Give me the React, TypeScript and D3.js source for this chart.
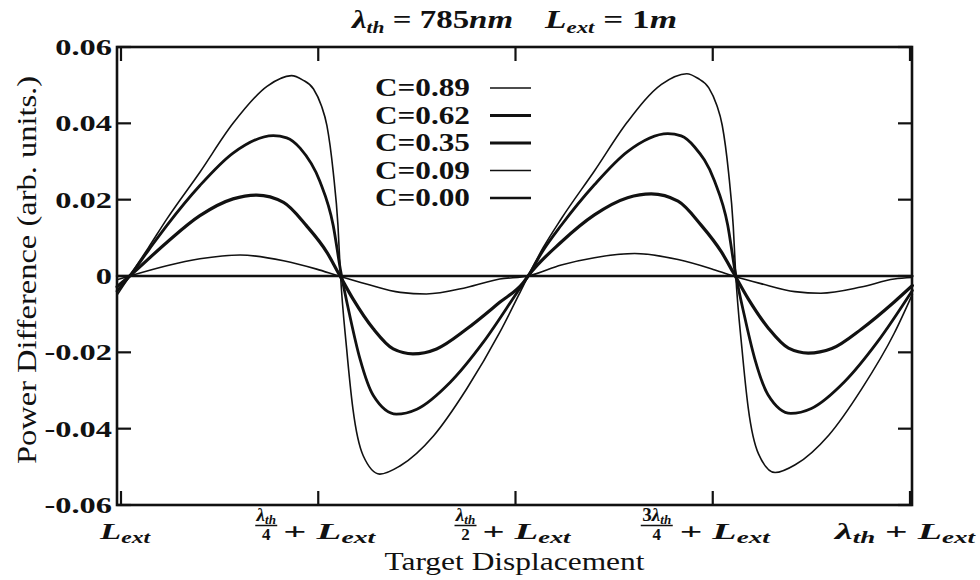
import React from 'react';
import * as d3 from 'd3';

// Target displacement in units of the threshold wavelength (0 = L_ext, 1 = λ_th + L_ext)
const xTicks = [0, 0.25, 0.5, 0.75, 1];
const yTicks = [-0.06, -0.04, -0.02, 0, 0.02, 0.04, 0.06];
const yTickLabels = ['-0.06', '-0.04', '-0.02', '0', '0.02', '0.04', '0.06'];

const seriesNames = ['C=0.89', 'C=0.62', 'C=0.35', 'C=0.09', 'C=0.00'];

// Power difference (arb. units) versus displacement, one array per feedback level C
const c089: [number, number][] = [
  [-0.005, -0.005], [0.011, 0], [0.035, 0.0075], [0.058, 0.0149], [0.1, 0.0272], [0.142, 0.04],
  [0.185, 0.0497], [0.216, 0.0525], [0.23, 0.0514], [0.244, 0.049], [0.254, 0.0446], [0.261, 0.0394],
  [0.269, 0.0272], [0.275, 0.0132], [0.278, 0.001], [0.286, -0.0191], [0.294, -0.0349], [0.307, -0.0471],
  [0.328, -0.0519], [0.354, -0.0497], [0.396, -0.0419], [0.438, -0.0296], [0.48, -0.0148], [0.51, -0.0025],
  [0.516, 0], [0.535, 0.0074], [0.558, 0.015], [0.6, 0.0275], [0.642, 0.0404], [0.685, 0.0502],
  [0.717, 0.053], [0.731, 0.0518], [0.745, 0.0493], [0.755, 0.0448], [0.762, 0.0395], [0.77, 0.0272],
  [0.776, 0.013], [0.779, 0.0008], [0.787, -0.019], [0.795, -0.0346], [0.808, -0.0466], [0.829, -0.0515],
  [0.855, -0.0494], [0.897, -0.0417], [0.939, -0.0295], [0.98, -0.015], [1.003, -0.0048],
];

const c062: [number, number][] = [
  [-0.005, -0.004], [0.011, 0], [0.035, 0.0068], [0.058, 0.0132], [0.1, 0.0237], [0.142, 0.0322],
  [0.193, 0.0368], [0.21, 0.0362], [0.227, 0.0335], [0.252, 0.0248], [0.269, 0.0132], [0.278, 0.0018],
  [0.29, -0.0104], [0.303, -0.0218], [0.32, -0.0314], [0.349, -0.0362], [0.375, -0.0349], [0.417, -0.0279],
  [0.459, -0.0174], [0.502, -0.0043], [0.516, 0], [0.535, 0.0067], [0.558, 0.0133], [0.6, 0.0239],
  [0.642, 0.0326], [0.693, 0.0373], [0.71, 0.0367], [0.727, 0.0338], [0.752, 0.025], [0.769, 0.0133],
  [0.778, 0.0016], [0.79, -0.0103], [0.803, -0.0215], [0.82, -0.0311], [0.849, -0.036], [0.875, -0.0347],
  [0.917, -0.0277], [0.959, -0.0172], [1.003, -0.0038],
];

const c035: [number, number][] = [
  [-0.005, -0.0028], [0.011, 0], [0.058, 0.0088], [0.1, 0.0158], [0.142, 0.0202], [0.172, 0.0212],
  [0.206, 0.0193], [0.235, 0.0132], [0.261, 0.0062], [0.275, 0.001], [0.294, -0.006], [0.32, -0.0139],
  [0.345, -0.0191], [0.37, -0.0204], [0.4, -0.0191], [0.438, -0.0139], [0.48, -0.0069], [0.51, -0.0017],
  [0.516, 0], [0.558, 0.0089], [0.6, 0.016], [0.642, 0.0205], [0.672, 0.0215], [0.706, 0.0196],
  [0.735, 0.0134], [0.761, 0.0063], [0.776, 0.0009], [0.795, -0.006], [0.821, -0.0138], [0.846, -0.0189],
  [0.871, -0.0202], [0.901, -0.019], [0.939, -0.0138], [0.98, -0.0068], [1.003, -0.0025],
];

const c009: [number, number][] = [
  [-0.005, -0.001], [0.011, 0], [0.058, 0.0027], [0.1, 0.0045], [0.151, 0.0055], [0.206, 0.004],
  [0.248, 0.0018], [0.276, 0], [0.311, -0.0021], [0.354, -0.0043], [0.387, -0.0047], [0.438, -0.003],
  [0.48, -0.0008], [0.516, 0], [0.558, 0.0029], [0.6, 0.0048], [0.651, 0.0059], [0.706, 0.0043],
  [0.748, 0.0019], [0.776, 0], [0.811, -0.002], [0.854, -0.0041], [0.887, -0.0045], [0.938, -0.0029],
  [0.98, -0.0008], [1.003, -0.0004],
];

const c000: [number, number][] = [
  [-0.005, 0], [0.25, 0], [0.5, 0], [0.75, 0], [1.003, 0],
];

const seriesData = [c089, c062, c035, c009, c000];
const seriesWidths = [1.6, 2.8, 3.2, 1.6, 2.6];

const W = 980;
const H = 580;
const frame = { left: 117, right: 912, top: 47, bottom: 505 };

const serif = "'Liberation Serif', 'Times New Roman', serif";
const labelBase = 539;

export default function App() {
  const x = d3.scaleLinear().domain([0, 1]).range([121, 910]);
  const y = d3.scaleLinear().domain([-0.06, 0.06]).range([frame.bottom, frame.top]);
  const line = d3
    .line<[number, number]>()
    .x((d) => x(d[0]))
    .y((d) => y(d[1]))
    .curve(d3.curveMonotoneX);

  const tickLen = 14;
  const ink = '#111';

  const lext = (key: string) => [
    <tspan key={key + 'L'} fontStyle="italic">L</tspan>,
    <tspan key={key + 's'} fontStyle="italic" fontSize="0.68em" dy={4}>ext</tspan>,
  ];

  const fraction = (cx: number, num: string, den: string, barHalf: number) => (
    <g fill={ink}>
      <text x={cx} y={521} textAnchor="middle" fontFamily={serif} fontWeight="bold" fontSize={19}>
        {num.length > 1 && <tspan>{num.slice(0, num.length - 1)}</tspan>}
        <tspan fontStyle="italic">{num.slice(-1)}</tspan>
        <tspan fontStyle="italic" fontSize={13} dy={3}>th</tspan>
      </text>
      <line x1={cx - barHalf} x2={cx + barHalf} y1={525.5} y2={525.5} stroke={ink} strokeWidth={1.5} />
      <text x={cx} y={540} textAnchor="middle" fontFamily={serif} fontWeight="bold" fontSize={17}>{den}</text>
    </g>
  );

  const plusLext = (startX: number, len: number) => (
    <text x={startX} y={labelBase} fontFamily={serif} fontWeight="bold" fontSize={24} fill={ink}
      textLength={len} lengthAdjust="spacingAndGlyphs" style={{ whiteSpace: 'pre' }}>
      <tspan>{'+ '}</tspan>
      {lext('p')}
    </text>
  );

  return (
    <svg width={W} height={H} viewBox={`0 0 ${W} ${H}`}
      style={{ position: 'absolute', left: 0, top: 0, background: '#fff' }}>
      <rect x={0} y={0} width={W} height={H} fill="#fff" />

      {/* title */}
      <text x={352} y={28} fontFamily={serif} fontWeight="bold" fontSize={26}
        textLength={161} lengthAdjust="spacingAndGlyphs" fill={ink} style={{ whiteSpace: 'pre' }}>
        <tspan fontStyle="italic">λ</tspan>
        <tspan fontStyle="italic" fontSize={17} dy={5}>th</tspan>
        <tspan dy={-5}>{' = 785'}</tspan>
        <tspan fontStyle="italic">nm</tspan>
      </text>
      <text x={545} y={28} fontFamily={serif} fontWeight="bold" fontSize={26}
        textLength={132} lengthAdjust="spacingAndGlyphs" fill={ink} style={{ whiteSpace: 'pre' }}>
        <tspan fontStyle="italic">L</tspan>
        <tspan fontStyle="italic" fontSize={17} dy={5}>ext</tspan>
        <tspan dy={-5}>{' = 1'}</tspan>
        <tspan fontStyle="italic">m</tspan>
      </text>

      {/* curves */}
      <g fill="none" stroke={ink} strokeLinejoin="round" strokeLinecap="round">
        {seriesData.map((s, i) => (
          <path key={seriesNames[i]} d={line(s) ?? ''} strokeWidth={seriesWidths[i]} />
        ))}
      </g>

      {/* frame and ticks */}
      <rect x={frame.left} y={frame.top} width={frame.right - frame.left} height={frame.bottom - frame.top}
        fill="none" stroke={ink} strokeWidth={2.6} />
      <g stroke={ink} strokeWidth={2.2}>
        {yTicks.map((t) => (
          <g key={'y' + t}>
            <line x1={frame.left} x2={frame.left + tickLen} y1={y(t)} y2={y(t)} />
            <line x1={frame.right} x2={frame.right - tickLen} y1={y(t)} y2={y(t)} />
          </g>
        ))}
        {xTicks.map((t) => (
          <g key={'x' + t}>
            <line x1={x(t)} x2={x(t)} y1={frame.bottom} y2={frame.bottom - tickLen} />
            <line x1={x(t)} x2={x(t)} y1={frame.top} y2={frame.top + tickLen} />
          </g>
        ))}
      </g>

      {/* y tick labels */}
      {yTicks.map((t, i) => (
        <g key={'yl' + t} transform={`translate(112,${y(t) + 8}) scale(1.35,1)`}>
          <text x={0} y={0} textAnchor="end" fontFamily={serif} fontWeight="bold" fontSize={24} fill={ink}>
            {yTickLabels[i]}
          </text>
        </g>
      ))}

      {/* x tick labels */}
      <text x={x(0) + 4} y={labelBase} textAnchor="middle" fontFamily={serif} fontWeight="bold" fontSize={24}
        textLength={50} lengthAdjust="spacingAndGlyphs" fill={ink}>
        {lext('a')}
      </text>
      {fraction(x(0.25) - 52, 'λ', '4', 11)}
      {plusLext(x(0.25) - 35, 92)}
      {fraction(x(0.5) - 50, 'λ', '2', 11)}
      {plusLext(x(0.5) - 33, 88)}
      {fraction(x(0.75) - 56, '3λ', '4', 16)}
      {plusLext(x(0.75) - 33, 90)}
      <text x={x(1) - 5} y={labelBase} textAnchor="middle" fontFamily={serif} fontWeight="bold" fontSize={24}
        textLength={140} lengthAdjust="spacingAndGlyphs" fill={ink} style={{ whiteSpace: 'pre' }}>
        <tspan fontStyle="italic">λ</tspan>
        <tspan fontStyle="italic" fontSize="0.68em" dy={4}>th</tspan>
        <tspan dy={-4}>{' + '}</tspan>
        {lext('b')}
      </text>

      {/* axis titles */}
      <text x={(frame.left + frame.right) / 2} y={570} textAnchor="middle" fontFamily={serif} fontSize={26}
        textLength={260} lengthAdjust="spacingAndGlyphs" fill={ink}>
        Target Displacement
      </text>
      <text transform={`translate(36,${(frame.top + frame.bottom) / 2 - 6}) rotate(-90)`} x={0} y={0}
        textAnchor="middle" fontFamily={serif} fontSize={27} textLength={388} lengthAdjust="spacingAndGlyphs"
        fill={ink}>
        Power Difference (arb. units.)
      </text>

      {/* legend */}
      {seriesNames.map((name, i) => {
        const base = 96 + i * 27.5;
        return (
          <g key={'lg' + name}>
            <g transform={`translate(470,${base}) scale(1.25,1)`}>
              <text x={0} y={0} textAnchor="end" fontFamily={serif} fontWeight="bold" fontSize={25} fill={ink}>
                {name}
              </text>
            </g>
            <line x1={490} x2={531} y1={base - 8} y2={base - 8} stroke={ink} strokeWidth={seriesWidths[i]} />
          </g>
        );
      })}
    </svg>
  );
}
